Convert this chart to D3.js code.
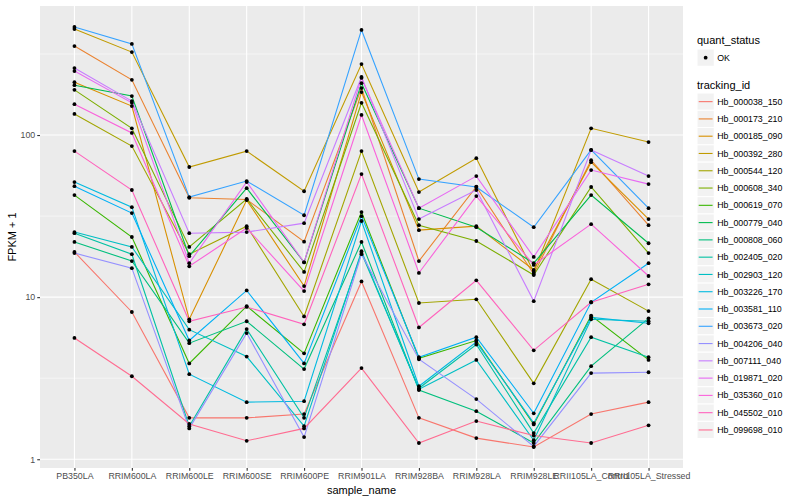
<!DOCTYPE html>
<html>
<head>
<meta charset="utf-8">
<script src="https://cdn.jsdelivr.net/npm/d3@7"></script>
<style>
  body { margin: 0; background: #fff; }
  text { font-family: "Liberation Sans", Arial, sans-serif; }
</style>
</head>
<body>
<svg width="800" height="500"></svg>
<script>
// categories
const samples = ['PB350LA', 'RRIM600LA', 'RRIM600LE', 'RRIM600SE', 'RRIM600PE', 'RRIM901LA',
  'RRIM928BA', 'RRIM928LA', 'RRIM928LE', 'RRII105LA_Control', 'RRII105LA_Stressed'];

const trackingIds = ['Hb_000038_150', 'Hb_000173_210', 'Hb_000185_090', 'Hb_000392_280', 'Hb_000544_120',
  'Hb_000608_340', 'Hb_000619_070', 'Hb_000779_040', 'Hb_000808_060', 'Hb_002405_020',
  'Hb_002903_120', 'Hb_003226_170', 'Hb_003581_110', 'Hb_003673_020', 'Hb_004206_040',
  'Hb_007111_040', 'Hb_019871_020', 'Hb_035360_010', 'Hb_045502_010', 'Hb_099698_010'];

// FPKM + 1, one array per tracking id (same order as samples)
const hb_000038_150 = [19, 8.1, 1.8, 1.8, 1.9, 12.5, 1.8, 1.35, 1.19, 1.9, 2.25];
const hb_000173_210 = [354, 219, 41, 40, 22, 195, 16.7, 48, 13.9, 70, 27.8];
const hb_000185_090 = [212, 151, 7.3, 39.7, 11.7, 184, 25.9, 27.4, 14.7, 68, 30.3];
const hb_000392_280 = [451, 325, 63.5, 79.6, 45, 274, 44.5, 72, 14.3, 110, 90.5];
const hb_000544_120 = [135, 85.5, 18.4, 27.4, 7.6, 79.6, 9.2, 9.7, 2.94, 12.9, 8.2];
const hb_000608_340 = [190, 110, 20.4, 40.3, 14.3, 158, 27.8, 22.2, 13.7, 47.8, 18.7];
const hb_000619_070 = [42.6, 23.5, 3.9, 8.8, 4.5, 33.5, 4.2, 5.4, 1.64, 7.7, 4.1];
const hb_000779_040 = [203, 174, 17.9, 47, 16.4, 209, 35.4, 27, 16.2, 42.6, 21.5];
const hb_000808_060 = [21.9, 16.7, 5.2, 7.1, 3.6, 21.9, 2.67, 1.98, 1.26, 3.75, 7.4];
const hb_002405_020 = [24.8, 18.4, 1.6, 6.35, 1.8, 18.7, 2.74, 5.1, 1.45, 5.66, 4.26];
const hb_002903_120 = [25.2, 20.4, 6.3, 4.3, 1.6, 19.2, 2.7, 4.1, 1.31, 7.3, 7.1];
const hb_003226_170 = [51.3, 35.9, 3.35, 2.25, 2.28, 29.5, 2.82, 5.28, 1.67, 7.5, 6.9];
const hb_003581_110 = [48.4, 33, 5.4, 11, 3.9, 31.6, 4.26, 5.66, 1.92, 9.3, 16.2];
const hb_003673_020 = [464, 365, 41.4, 52, 32, 445, 53.5, 47.8, 27, 81, 35.4];
const hb_004206_040 = [18.7, 15.1, 1.55, 6.0, 1.37, 18.4, 4.14, 2.35, 1.2, 3.4, 3.44];
const hb_007111_040 = [259, 162, 24.8, 25.2, 28.6, 228, 30.3, 45.8, 9.45, 80.8, 55.8];
const hb_019871_020 = [248, 158, 16.2, 51.3, 16.4, 225, 35.4, 55.8, 17.7, 60.8, 49.8];
const hb_035360_010 = [155, 103, 15.5, 26.7, 10.9, 133, 14.1, 42, 15.8, 28.2, 13.5];
const hb_045502_010 = [79.6, 45.8, 7.1, 8.7, 6.8, 57.4, 6.5, 12.7, 4.7, 9.3, 12];
const hb_099698_010 = [5.6, 3.25, 1.65, 1.3, 1.55, 3.65, 1.26, 1.72, 1.4, 1.26, 1.62];

const yTicks = [1, 10, 100];
const yMinor = [Math.sqrt(10), Math.sqrt(1000), Math.sqrt(100000)];

const seriesValues = [hb_000038_150, hb_000173_210, hb_000185_090, hb_000392_280, hb_000544_120,
  hb_000608_340, hb_000619_070, hb_000779_040, hb_000808_060, hb_002405_020,
  hb_002903_120, hb_003226_170, hb_003581_110, hb_003673_020, hb_004206_040,
  hb_007111_040, hb_019871_020, hb_035360_010, hb_045502_010, hb_099698_010];

// ggplot default hue palette for 20 groups
const colors = ['#F8766D', '#EA8331', '#D89000', '#C09B00', '#A3A500', '#7CAE00', '#39B600', '#00BB4E',
  '#00BF7D', '#00C1A3', '#00BFC4', '#00BAE0', '#00B0F6', '#35A2FF', '#9590FF', '#C77CFF',
  '#E76BF3', '#FA62DB', '#FF62BC', '#FF6C91'];

const series = trackingIds.map((id, i) => ({
  id: id, color: colors[i],
  values: samples.map((s, j) => ({ sample: s, v: seriesValues[i][j] }))
}));

const svg = d3.select('svg');
const panel = { left: 40, right: 683, top: 6, bottom: 468 };

// scales
const x = d3.scalePoint().domain(samples).range([panel.left, panel.right]).padding(0.6);

let allV = seriesValues.flat();
let lo = Math.log10(d3.min(allV)), hi = Math.log10(d3.max(allV));
let pad = (hi - lo) * 0.05;
const y = d3.scaleLog().domain([Math.pow(10, lo - pad), Math.pow(10, hi + pad)])
  .range([panel.bottom, panel.top]);

// panel background + grid
svg.append('rect')
  .attr('x', panel.left).attr('y', panel.top)
  .attr('width', panel.right - panel.left).attr('height', panel.bottom - panel.top)
  .attr('fill', '#EBEBEB');

svg.append('g').selectAll('line').data(yMinor).enter().append('line')
  .attr('x1', panel.left).attr('x2', panel.right)
  .attr('y1', d => y(d)).attr('y2', d => y(d))
  .attr('stroke', '#fff').attr('stroke-width', 0.55);

svg.append('g').selectAll('line').data(yTicks).enter().append('line')
  .attr('x1', panel.left).attr('x2', panel.right)
  .attr('y1', d => y(d)).attr('y2', d => y(d))
  .attr('stroke', '#fff').attr('stroke-width', 1.1);

svg.append('g').selectAll('line').data(samples).enter().append('line')
  .attr('x1', d => x(d)).attr('x2', d => x(d))
  .attr('y1', panel.top).attr('y2', panel.bottom)
  .attr('stroke', '#fff').attr('stroke-width', 1.1);

// lines
const line = d3.line().x(d => x(d.sample)).y(d => y(d.v));
svg.append('g').selectAll('path').data(series).enter().append('path')
  .attr('d', d => line(d.values))
  .attr('fill', 'none')
  .attr('stroke', d => d.color)
  .attr('stroke-width', 1.1);

// points
svg.append('g').selectAll('g').data(series).enter().append('g')
  .selectAll('circle').data(d => d.values).enter().append('circle')
  .attr('cx', d => x(d.sample))
  .attr('cy', d => y(d.v))
  .attr('r', 1.9)
  .attr('fill', '#000');

// axes
const yAxis = d3.axisLeft(y).tickValues(yTicks).tickFormat(d3.format('d')).tickSize(2.75).tickPadding(2);
const gy = svg.append('g').attr('transform', `translate(${panel.left},0)`).call(yAxis);
const xAxis = d3.axisBottom(x).tickSize(2.75).tickPadding(2);
const gx = svg.append('g').attr('transform', `translate(0,${panel.bottom})`).call(xAxis);

[gy, gx].forEach(g => {
  g.select('.domain').remove();
  g.selectAll('.tick line').attr('stroke', '#333333').attr('stroke-width', 1.1);
  g.selectAll('.tick text').attr('fill', '#4D4D4D')
    .style('font-size', '8.8px').style('font-family', '"Liberation Sans", Arial, sans-serif');
});

// axis titles
svg.append('text')
  .attr('x', (panel.left + panel.right) / 2).attr('y', 494)
  .attr('text-anchor', 'middle').style('font-size', '11px').attr('fill', '#000')
  .text('sample_name');

svg.append('text')
  .attr('transform', `translate(16,${(panel.top + panel.bottom) / 2}) rotate(-90)`)
  .attr('text-anchor', 'middle').style('font-size', '11px').attr('fill', '#000')
  .text('FPKM + 1');

// legend
const lg = svg.append('g').attr('transform', 'translate(697,0)');
const keySize = 17.28;

lg.append('text').attr('x', 0).attr('y', 44).style('font-size', '11px').text('quant_status');
lg.append('rect').attr('x', 0).attr('y', 49).attr('width', keySize).attr('height', keySize)
  .attr('fill', '#F2F2F2').attr('stroke', '#fff');
lg.append('circle').attr('cx', keySize / 2).attr('cy', 49 + keySize / 2).attr('r', 1.9).attr('fill', '#000');
lg.append('text').attr('x', keySize + 3).attr('y', 49 + keySize / 2 + 3.1)
  .style('font-size', '8.8px').text('OK');

lg.append('text').attr('x', 0).attr('y', 89).style('font-size', '11px').text('tracking_id');

const keys = lg.append('g').attr('transform', 'translate(0,93)')
  .selectAll('g').data(series).enter().append('g')
  .attr('transform', (d, i) => `translate(0,${i * keySize})`);

keys.append('rect').attr('width', keySize).attr('height', keySize)
  .attr('fill', '#F2F2F2').attr('stroke', '#fff');
keys.append('line')
  .attr('x1', 1.7).attr('x2', keySize - 1.7)
  .attr('y1', keySize / 2).attr('y2', keySize / 2)
  .attr('stroke', d => d.color).attr('stroke-width', 1.1);
keys.append('text')
  .attr('x', keySize + 3).attr('y', keySize / 2 + 3.1)
  .style('font-size', '8.8px').attr('fill', '#000')
  .text(d => d.id);
</script>
</body>
</html>
